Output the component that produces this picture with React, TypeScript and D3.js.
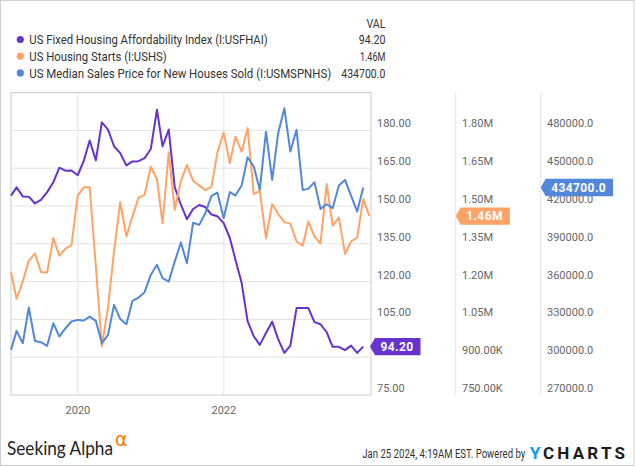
import React from "react";
import * as d3 from "d3";

// ---- Data (monthly, Jan 2019 onward) ----
const affordability: number[] = [
  154.1, 157.4, 153.8, 153.7, 151.0, 152.4, 155.5, 159.4, 165.2, 164.0,
  164.1, 162.2, 168.0, 176.0, 168.1, 183.2, 180.3, 173.7, 171.0, 166.1,
  167.7, 167.8, 169.0, 172.6, 188.2, 173.7, 180.3, 157.5, 150.5, 144.8,
  148.8, 150.4, 149.6, 146.6, 145.9, 143.2, 137.3, 128.7, 119.5, 104.3,
  98.3, 94.9, 99.6, 104.1, 97.2, 91.7, 94.6, 109.5, 109.5, 109.5,
  103.9, 103.1, 99.9, 94.1, 94.1, 92.8, 94.6, 91.7, 94.2,
];
// millions of units
const housingStarts: number[] = [
  1.237, 1.132, 1.201, 1.283, 1.311, 1.238, 1.236, 1.373, 1.303, 1.331,
  1.345, 1.541, 1.574, 1.574, 1.26, 0.943, 1.10, 1.32, 1.515, 1.379,
  1.458, 1.533, 1.544, 1.656, 1.607, 1.432, 1.713, 1.485, 1.60, 1.663,
  1.60, 1.581, 1.563, 1.576, 1.713, 1.791, 1.670, 1.775, 1.716, 1.809,
  1.547, 1.560, 1.372, 1.508, 1.469, 1.436, 1.430, 1.359, 1.343, 1.438,
  1.379, 1.351, 1.587, 1.422, 1.454, 1.309, 1.359, 1.375, 1.528, 1.46,
];
const medianPrice: number[] = [
  305800, 320900, 311100, 339400, 312900, 311900, 309000, 327000, 316400, 323000,
  328300, 329600, 329100, 332200, 328800, 311100, 317700, 341500, 330400, 326200,
  344700, 347300, 351600, 365300, 373300, 362700, 360000, 375900, 391000, 374600,
  406700, 405000, 414300, 428000, 430600, 410300, 431000, 428300, 436200, 458700,
  451300, 432800, 479000, 440700, 477800, 497600, 463200, 480400, 432800, 433600,
  438900, 417700, 421400, 418300, 436200, 440700, 428300, 415600, 434700,
];

const seriesNames = [
  "US Fixed Housing Affordability Index (I:USFHAI)",
  "US Housing Starts (I:USHS)",
  "US Median Sales Price for New Houses Sold (I:USMSPNHS)",
];
const lastValueLabels = ["94.20", "1.46M", "434700.0"];
const colors = ["#6633CC", "#FFA366", "#5287DA"];

const ticksA = [75, 90, 105, 120, 135, 150, 165, 180];
const ticksALabels = ["75.00", "90.00", "105.00", "120.00", "135.00", "150.00", "165.00", "180.00"];
const ticksB = [0.75, 0.9, 1.05, 1.2, 1.35, 1.5, 1.65, 1.8];
const ticksBLabels = ["750.00K", "900.00K", "1.05M", "1.20M", "1.35M", "1.50M", "1.65M", "1.80M"];
const ticksC = [270000, 300000, 330000, 360000, 390000, 420000, 450000, 480000];
const ticksCLabels = ["270000.0", "300000.0", "330000.0", "360000.0", "390000.0", "420000.0", "450000.0", "480000.0"];
const xTickYears = [2020, 2022];

const monthEnd = (i: number) => new Date(2019, i + 1, 0);

const W = 635;
const H = 467;
const plot = { left: 11, right: 371, top: 92.6, bottom: 395 };
const axisX = [377, 462, 547];
const sepX = [455.7, 540.7];
const legendNameWidths = [238.4, 137.4, 301.9];
const legendValueWidths = [26.7, 25.5, 44.1];

function measure(text: string, font: string, spacing: number) {
  const c = document.createElement("canvas").getContext("2d");
  if (!c) return text.length * 6.7;
  c.font = font;
  return c.measureText(text).width + spacing * text.length;
}

export default function App() {
  const x = d3
    .scaleTime()
    .domain([new Date(2019, 0, 31), new Date(2024, 0, 8)])
    .range([plot.left, plot.right]);
  const yA = d3.scaleLinear().domain([75, 195]).range([plot.bottom, plot.top]);
  const yB = d3.scaleLinear().domain([0.75, 1.95]).range([plot.bottom, plot.top]);
  const yC = d3.scaleLinear().domain([270000, 510000]).range([plot.bottom, plot.top]);

  const mkLine = (y: d3.ScaleLinear<number, number>) =>
    d3
      .line<number>()
      .x((_, i) => x(monthEnd(i)))
      .y((d) => y(d));

  const series = [
    { data: affordability, y: yA },
    { data: housingStarts, y: yB },
    { data: medianPrice, y: yC },
  ];

  const tipX = [plot.right - 1, sepX[0], sepX[1]];
  const labelFont = "bold 12px Roboto";
  const flagH = 17.4;
  const flagY = series.map((s) => s.y(s.data[s.data.length - 1]));
  // a tick label is hidden when its centre falls under a value flag
  const hidden = (axis: number, gridY: number) => {
    const c = gridY - 7;
    return c > flagY[axis] - flagH / 2 && c < flagY[axis] + flagH / 2;
  };

  const tickGroups = [
    { ticks: ticksA, labels: ticksALabels, y: yA },
    { ticks: ticksB, labels: ticksBLabels, y: yB },
    { ticks: ticksC, labels: ticksCLabels, y: yC },
  ];

  return (
    <svg
      width={W}
      height={H}
      style={{ position: "absolute", left: 0, top: 0, fontFamily: "Roboto, sans-serif" }}
    >
      <rect x={0} y={0} width={W} height={H} fill="#fff" />
      <rect x={0.5} y={0.5} width={633.5} height={465} fill="none" stroke="#cfcfcf" />

      {/* Legend */}
      <text x={366.4} y={27.8} fontSize={13} fill="#333" textLength={19} lengthAdjust="spacingAndGlyphs">VAL</text>
      {seriesNames.map((name, i) => {
        const cy = 39.5 + i * 16.7;
        return (
          <g key={name}>
            <circle cx={20.3} cy={cy} r={3.6} fill={colors[i]} />
            <text
              x={29.3}
              y={cy + 4.6}
              fontSize={13}
              fill="#333"
              textLength={legendNameWidths[i]}
              lengthAdjust="spacingAndGlyphs"
            >
              {name}
            </text>
            <text
              x={385.4 - legendValueWidths[i]}
              y={cy + 4.6}
              fontSize={13}
              fill="#333"
              textLength={legendValueWidths[i]}
              lengthAdjust="spacingAndGlyphs"
            >
              {lastValueLabels[i]}
            </text>
          </g>
        );
      })}

      {/* Gridlines */}
      {ticksA.filter((t) => t > 75).map((t) => (
        <line key={"g" + t} x1={plot.left} x2={plot.right} y1={yA(t)} y2={yA(t)} stroke="#e3e3e3" strokeWidth={1} />
      ))}
      {xTickYears.map((yr) => {
        const px = x(new Date(yr, 0, 1));
        return (
          <g key={"x" + yr}>
            <line x1={px} x2={px} y1={plot.top} y2={plot.bottom} stroke="#e3e3e3" strokeWidth={1} />
            <text x={px} y={414} textAnchor="middle" fontSize={11} fill="#666">{yr}</text>
          </g>
        );
      })}

      {/* Axis separators */}
      {sepX.map((sx) => (
        <line key={"s" + sx} x1={sx} x2={sx} y1={plot.top} y2={plot.bottom} stroke="#e3e3e3" strokeWidth={1} />
      ))}

      {/* Plot border */}
      <rect
        x={plot.left}
        y={plot.top}
        width={plot.right - plot.left}
        height={plot.bottom - plot.top}
        fill="none"
        stroke="#cccccc"
        strokeWidth={1}
      />

      {/* Series lines */}
      {series.map((s, i) => (
        <path
          key={"l" + i}
          d={mkLine(s.y)(s.data) || ""}
          fill="none"
          stroke={colors[i]}
          strokeWidth={2}
          strokeLinejoin="round"
        />
      ))}

      {/* Right axes tick labels */}
      {tickGroups.map((g, a) =>
        g.ticks.map((t, k) =>
          hidden(a, g.y(t)) ? null : (
            <text key={"t" + a + "-" + k} x={axisX[a]} y={g.y(t) - 3} fontSize={11} fill="#666">
              {g.labels[k]}
            </text>
          )
        )
      )}

      {/* Last value flags */}
      {series.map((s, i) => {
        const cy = flagY[i];
        const tip = tipX[i];
        const tw = measure(lastValueLabels[i], labelFont, 0.4);
        const rx = tip + 5;
        const textX = tip + 10.5;
        const rw = textX + tw + 7 - rx;
        const h = flagH;
        const path = `M${tip},${cy} L${rx},${cy - h / 2} L${rx + rw},${cy - h / 2} L${rx + rw},${cy + h / 2} L${rx},${cy + h / 2} Z`;
        return (
          <g key={"f" + i}>
            <path d={path} fill={colors[i]} />
            <text
              x={textX}
              y={cy + 4.3}
              fontSize={12}
              fontWeight="bold"
              fill="#fff"
              letterSpacing={0.4}
            >
              {lastValueLabels[i]}
            </text>
          </g>
        );
      })}

      {/* Footer */}
      <text
        x={7}
        y={455}
        fontFamily="Lato, 'Open Sans', sans-serif"
        fontSize={18.5}
        fill="#222"
        textLength={106}
        lengthAdjust="spacingAndGlyphs"
      >
        Seeking Alpha
      </text>
      <text x={115} y={446} fontSize={19} fill="#ff7a00" fontFamily="'DejaVu Sans', sans-serif">α</text>

      <text
        x={362.3}
        y={458.3}
        fontSize={12}
        fill="#333"
        textLength={163}
        lengthAdjust="spacingAndGlyphs"
      >
        Jan 25 2024, 4:19AM EST.  Powered by
      </text>
      <text
        x={529.8}
        y={459}
        fontSize={17}
        fontWeight="bold"
        fill="#1a9ad6"
        textLength={10.8}
        lengthAdjust="spacingAndGlyphs"
      >
        Y
      </text>
      <text
        x={543}
        y={459}
        fontSize={17}
        fontWeight="bold"
        fill="#1a1a1a"
        textLength={82}
        lengthAdjust="spacing"
      >
        CHARTS
      </text>
    </svg>
  );
}
